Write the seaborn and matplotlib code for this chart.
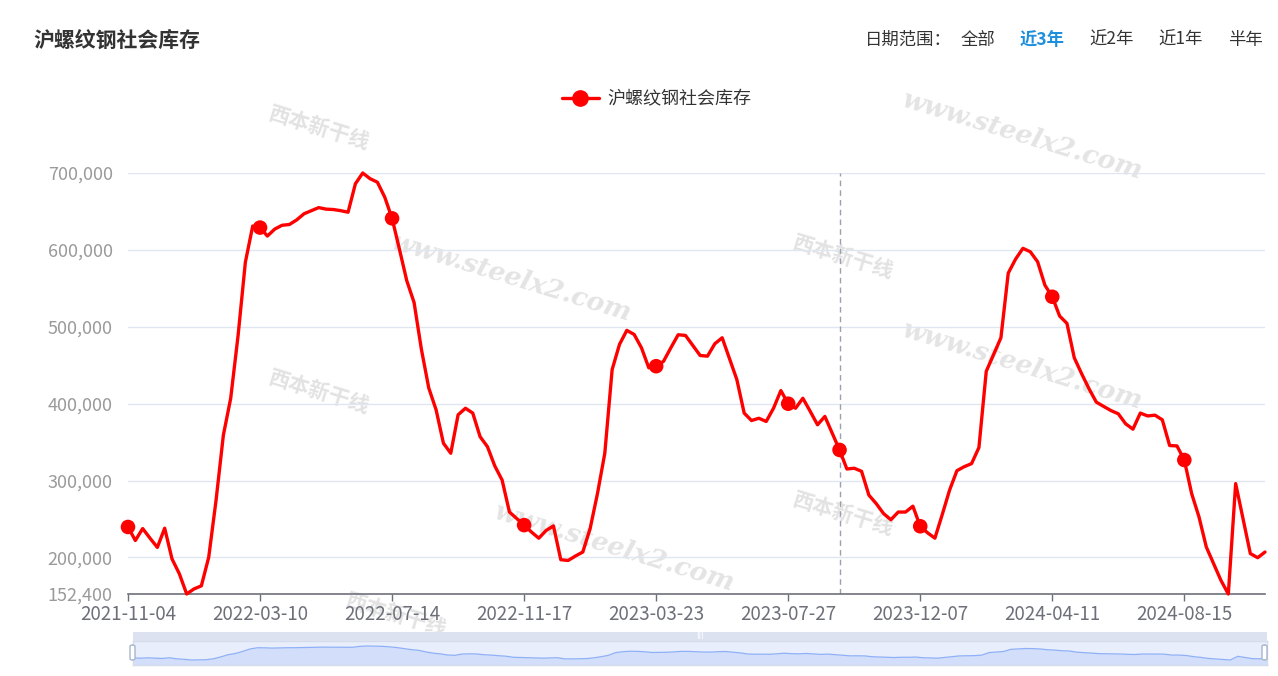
import matplotlib.pyplot as plt
import numpy as np
import pandas as pd
import seaborn as sns
from matplotlib.lines import Line2D
from matplotlib.patches import FancyBboxPatch

# weekly Shanghai rebar social inventory (tonnes), category axis
values = [
    239600, 222000, 237500, 225000, 213000, 238000, 198000, 178700, 152400, 159000,
    163000, 200000, 274000, 359000, 407000, 488000, 584000, 631000, 629000, 618000,
    627000, 632000, 633000, 639000, 647000, 651000, 655000, 653000, 652500, 651000,
    649000, 686000, 700000, 692600, 688000, 668600, 641000, 601000, 560000, 531500,
    470500, 420400, 392000, 348500, 335500, 385500, 394000, 387700, 357000, 344000,
    319000, 300600, 259000, 250500, 242000, 233000, 225000, 235000, 241000, 197000,
    196000, 201800, 207000, 237500, 283000, 335500, 444300, 477000, 495300, 490000,
    472600, 446500, 448700, 455000, 472600, 489600, 488700, 475700, 462600, 461800,
    477900, 485700, 458300, 431300, 387700, 378000, 381000, 376800, 394000, 417000,
    399900, 394000, 407000, 390000, 372500, 383400, 361600, 339800, 315000, 316000,
    312000, 281000, 270000, 257000, 249000, 259000, 259000, 266600, 240500, 232000,
    225000, 255700, 287500, 312800, 318000, 322000, 342900, 442000, 464000, 485700,
    569800, 588000, 602000, 597600, 584600, 554000, 539000, 514000, 504400, 459600,
    439000, 419500, 402000, 396400, 391000, 386800, 373800, 366800, 387700, 384000,
    385000, 379000, 345500, 345000, 326700, 283000, 252700, 213500, 191700, 170000,
    152400, 296000, 250500, 205000, 199600, 207000,
]
tick_labels = ["2021-11-04", "2022-03-10", "2022-07-14", "2022-11-17", "2023-03-23",
               "2023-07-27", "2023-12-07", "2024-04-11", "2024-08-15"]
tick_step = 18
hover_index = 97
y_ticks = [152400, 200000, 300000, 400000, 500000, 600000, 700000]
series_name = "沪螺纹钢社会库存"
range_options = ["全部", "近3年", "近2年", "近1年", "半年"]

df = pd.DataFrame({"idx": np.arange(len(values)), "value": values})
tick_pos = list(range(0, len(values), tick_step))[: len(tick_labels)]
marks = df[df["idx"].isin(tick_pos + [hover_index])]

sns.set_theme(style="white")
plt.rcParams["font.family"] = ["Noto Sans CJK SC", "DejaVu Sans"]

W, H = 1278, 676
fig = plt.figure(figsize=(W / 100, H / 100), dpi=100)

# faint watermarks behind everything
for (wx, wy) in [(0.80, 0.80), (0.40, 0.59), (0.80, 0.46), (0.48, 0.19)]:
    fig.text(wx, wy, "www.steelx2.com", rotation=-17, fontsize=19, color="#E4E4E4",
             fontstyle="italic", fontweight="bold", ha="center", va="center",
             zorder=-5, family="DejaVu Serif")
for (wx, wy) in [(0.25, 0.81), (0.66, 0.62), (0.25, 0.42), (0.66, 0.24), (0.31, 0.09)]:
    fig.text(wx, wy, "西本新干线", rotation=-17, fontsize=15, color="#E2E2E2",
             ha="center", va="center", zorder=-5, fontweight="bold")

ax = fig.add_axes([128 / W, (H - 594) / H, (1265 - 128) / W, (594 - 173) / H])
ax.patch.set_alpha(0)

for yv in y_ticks[1:]:
    ax.axhline(yv, color="#E0E6F1", lw=1, zorder=0)
ax.axvline(hover_index, color="#9AA0AC", lw=1, ls=(0, (4, 3)), zorder=1)

sns.lineplot(data=df, x="idx", y="value", color="#FF0000", lw=2.4, ax=ax,
             zorder=3, clip_on=False)
sns.scatterplot(data=marks, x="idx", y="value", color="#FF0000", s=110,
                edgecolor="none", ax=ax, zorder=4, clip_on=False)

ax.set_xlim(0, len(values) - 1)
ax.set_ylim(152400, 700000)
ax.set_xticks(tick_pos)
ax.set_xticklabels(tick_labels)
ax.set_yticks(y_ticks)
ax.set_yticklabels([f"{v:,}" for v in y_ticks])
ax.tick_params(axis="x", length=5, width=1, color="#6E7079", labelcolor="#6E7079",
               labelsize=13.5, pad=2, direction="out", bottom=True)
ax.tick_params(axis="y", length=0, labelcolor="#9A9A9A", labelsize=13, pad=11)
ax.set_xlabel("")
ax.set_ylabel("")
for side in ["top", "right", "left"]:
    ax.spines[side].set_visible(False)
ax.spines["bottom"].set_color("#6E7079")
ax.spines["bottom"].set_linewidth(1.2)

# titles and range selector
fig.text(33 / W, 1 - 40 / H, series_name, fontsize=15, fontweight="bold",
         color="#333333", va="center", ha="left")
fig.text(865 / W, 1 - 40 / H, "日期范围：", fontsize=12.5, color="#333333",
         va="center", ha="left")
opt_x = [961, 1020, 1089, 1158, 1228]
for ox, lab in zip(opt_x, range_options):
    sel = lab == "近3年"
    fig.text(ox / W, 1 - 40 / H, lab, fontsize=12.5, va="center", ha="left",
             color="#1E8FDC" if sel else "#333333",
             fontweight="bold" if sel else "normal")

handle = Line2D([], [], color="#FF0000", lw=2.4, marker="o", markersize=11)
fig.legend(handles=[handle], labels=[series_name], loc="center",
           bbox_to_anchor=(657 / W, 1 - 99 / H), frameon=False, fontsize=13,
           handlelength=2.0, handletextpad=0.5, labelcolor="#333333")

# data zoom slider
sx0, sx1, sy0, sy1 = 133, 1267, 632, 665
bar = fig.add_axes([sx0 / W, (H - sy1) / H, (sx1 - sx0) / W, (sy1 - 641) / H])
bar.set_facecolor("#E8EEFB")
lo, hi = -43000, 895600
sns.lineplot(data=df, x="idx", y="value", color="#8FB0F7", lw=0.9, ax=bar)
bar.fill_between(df["idx"], df["value"], lo, color="#D3DFFA", lw=0)
bar.set_xlim(0, len(values) - 1)
bar.set_ylim(lo, hi)
bar.set_xticks([])
bar.set_yticks([])
bar.set_xlabel("")
bar.set_ylabel("")
for s in bar.spines.values():
    s.set_color("#D4DBEA")
    s.set_linewidth(1)

top = fig.add_axes([sx0 / W, (H - 641) / H, (sx1 - sx0) / W, (641 - sy0) / H])
top.set_facecolor("#DCE2F0")
top.set_xticks([])
top.set_yticks([])
for s in top.spines.values():
    s.set_visible(False)
top.text(0.5, 0.5, "III", color="white", fontsize=6, ha="center", va="center",
         transform=top.transAxes)

for hx in [sx0, sx1 - 2]:
    fig.patches.append(FancyBboxPatch(((hx - 3) / W, (H - 660) / H), 5 / W, 15 / H,
                                      boxstyle="round,pad=0,rounding_size=0.002",
                                      transform=fig.transFigure, facecolor="white",
                                      edgecolor="#A7B7CC", lw=1, zorder=5))

fig.savefig("out.png", dpi=100)
